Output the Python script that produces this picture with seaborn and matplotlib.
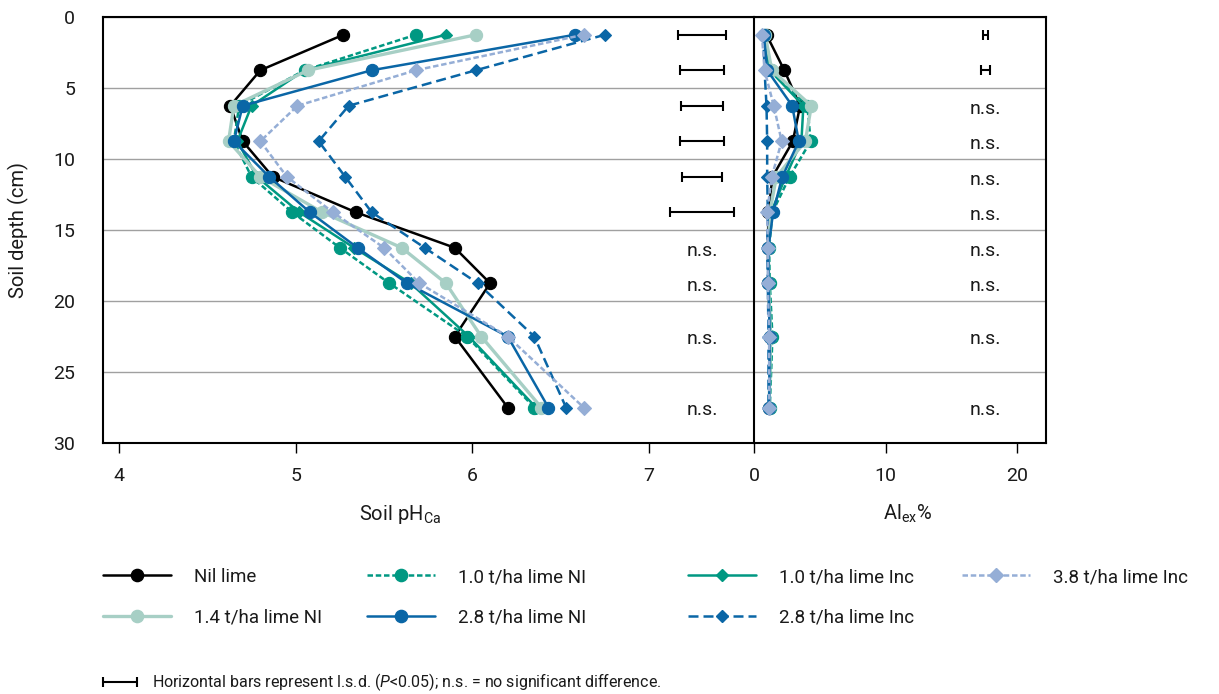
import matplotlib
matplotlib.use("Agg")
import matplotlib.pyplot as plt
import seaborn as sns
from matplotlib.lines import Line2D

# depth of each sampling layer (cm, mid-point)
depth = [1.25, 3.75, 6.25, 8.75, 11.25, 13.75, 16.25, 18.75, 22.5, 27.5]

# soil pH (CaCl2) per treatment
ph_nil = [5.27, 4.80, 4.63, 4.70, 4.87, 5.34, 5.90, 6.10, 5.90, 6.20]
ph_10ni = [5.68, 5.05, 4.68, 4.65, 4.75, 4.98, 5.25, 5.53, 5.97, 6.35]
ph_10inc = [5.85, 5.05, 4.75, 4.67, 4.78, 5.02, 5.33, 5.65, 5.98, 6.36]
ph_38inc = [6.63, 5.68, 5.01, 4.80, 4.95, 5.21, 5.50, 5.70, 6.20, 6.63]
ph_14ni = [6.02, 5.07, 4.65, 4.62, 4.80, 5.15, 5.60, 5.85, 6.05, 6.39]
ph_28ni = [6.58, 5.43, 4.70, 4.65, 4.85, 5.08, 5.35, 5.63, 6.20, 6.43]
ph_28inc = [6.75, 6.02, 5.30, 5.13, 5.28, 5.43, 5.73, 6.03, 6.35, 6.53]

# exchangeable Al (%) per treatment
al_nil = [0.95, 2.3, 3.5, 2.95, 1.4, 1.1, 1.05, 1.1, 1.2, 1.15]
al_10ni = [0.8, 1.3, 4.05, 4.3, 2.7, 1.4, 1.15, 1.2, 1.4, 1.2]
al_10inc = [0.75, 1.2, 3.75, 3.6, 2.4, 1.3, 1.1, 1.1, 1.3, 1.15]
al_38inc = [0.6, 0.8, 1.5, 2.1, 1.35, 1.0, 1.05, 1.05, 1.15, 1.15]
al_14ni = [0.85, 1.35, 4.35, 3.9, 1.7, 1.2, 1.1, 1.1, 1.25, 1.15]
al_28ni = [0.75, 1.0, 2.9, 3.4, 2.15, 1.45, 1.1, 1.1, 1.2, 1.15]
al_28inc = [0.7, 0.8, 0.95, 1.0, 1.0, 1.05, 1.0, 1.05, 1.1, 1.1]

# l.s.d. bars and n.s. labels
lsd_ph_depth = [1.25, 3.75, 6.25, 8.75, 11.25, 13.75]
lsd_ph = [0.27, 0.25, 0.24, 0.25, 0.23, 0.36]
ns_ph_depth = [16.25, 18.75, 22.5, 27.5]
lsd_al_depth = [1.25, 3.75]
lsd_al = [0.35, 0.7]
ns_al_depth = [6.25, 8.75, 11.25, 13.75, 16.25, 18.75, 22.5, 27.5]

TEAL = "#009882"
BLUE = "#0a66a6"
LBLUE = "#95aed6"
SAGE = "#a7cfc5"

# name, pH, Al, colour, dashes, marker, markersize, linewidth
series = [
    ("Nil lime", ph_nil, al_nil, "black", "-", "o", 8.8, 1.8),
    ("1.0 t/ha lime NI", ph_10ni, al_10ni, TEAL, (0, (2.2, 1.1)), "o", 8.8, 1.8),
    ("1.0 t/ha lime Inc", ph_10inc, al_10inc, TEAL, "-", "D", 6, 1.8),
    ("1.4 t/ha lime NI", ph_14ni, al_14ni, SAGE, "-", "o", 8.8, 2.4),
    ("2.8 t/ha lime NI", ph_28ni, al_28ni, BLUE, "-", "o", 8.8, 1.8),
    ("2.8 t/ha lime Inc", ph_28inc, al_28inc, BLUE, (0, (4, 2)), "D", 6, 1.8),
    ("3.8 t/ha lime Inc", ph_38inc, al_38inc, LBLUE, (0, (2.2, 1.1)), "D", 7.5, 1.8),
]

sns.set_style("white")
plt.rcParams["font.family"] = ["Roboto", "DejaVu Sans"]
plt.rcParams["mathtext.fontset"] = "custom"
plt.rcParams["mathtext.rm"] = "Roboto"
plt.rcParams["mathtext.it"] = "Roboto:italic"

TXT = "#1a1a1a"
W, H = 1219, 694
fig = plt.figure(figsize=(W / 100, H / 100), dpi=100)
axL = fig.add_axes([103 / W, 1 - 443 / H, 651 / W, 426 / H])
axR = fig.add_axes([754 / W, 1 - 443 / H, 292 / W, 426 / H])

for name, ph, al, col, ls, mk, ms, lw in series:
    for ax, xs in ((axL, ph), (axR, al)):
        sns.lineplot(x=xs, y=depth, ax=ax, color=col, linestyle=ls, lw=lw,
                     marker=mk, markersize=ms, markeredgecolor=col,
                     markeredgewidth=0.8, sort=False, orient="y", zorder=3)

# l.s.d. bars
axL.errorbar([7.3] * len(lsd_ph), lsd_ph_depth, xerr=[v / 2 for v in lsd_ph],
             fmt="none", ecolor="black", elinewidth=1.5, capsize=3.5, capthick=1.5)
axR.errorbar([17.6] * len(lsd_al), lsd_al_depth, xerr=[v / 2 for v in lsd_al],
             fmt="none", ecolor="black", elinewidth=1.5, capsize=3.5, capthick=1.5)
for d in ns_ph_depth:
    axL.text(7.3, d + 0.2, "n.s.", ha="center", va="center", fontsize=14, color=TXT)
for d in ns_al_depth:
    axR.text(17.6, d + 0.2, "n.s.", ha="center", va="center", fontsize=14, color=TXT)

for ax in (axL, axR):
    ax.set_ylim(30, 0)
    ax.set_yticks([0, 5, 10, 15, 20, 25, 30])
    ax.grid(axis="y", color="#a0a0a0", lw=1)
    ax.set_axisbelow(True)
    ax.set_xlabel("")
    ax.set_ylabel("")
    for s in ax.spines.values():
        s.set_color("black")
        s.set_linewidth(1.5)
    ax.tick_params(axis="x", direction="out", length=7, width=1, pad=10,
                   labelsize=14, colors="black", bottom=True)
    ax.tick_params(axis="x", labelcolor=TXT)

axL.set_xlim(4 - 16 / 176.7, 4 + 635 / 176.7)
axL.set_xticks([4, 5, 6, 7])
axL.spines["right"].set_visible(False)
axL.tick_params(axis="y", length=0, pad=20, labelsize=14, labelcolor=TXT)

axR.set_xlim(0, 292 / 13.17)
axR.set_xticks([0, 10, 20])
axR.tick_params(axis="y", left=False, labelleft=False)

fig.text(18 / W, 1 - 230 / H, "Soil depth (cm)", rotation=90, ha="center", va="center",
         fontsize=14.5, color=TXT)
fig.text(400 / W, 1 - 514 / H, r"Soil pH$_{\mathrm{Ca}}$", ha="center", va="center",
         fontsize=14.5, color=TXT)
fig.text(908 / W, 1 - 514 / H, r"Al$_{\mathrm{ex}}$%", ha="center", va="center",
         fontsize=14.5, color=TXT)

# legend, laid out in four columns like the original
handles = {name: Line2D([], [], color=col, linestyle=ls, lw=lw, marker=mk,
                        markersize=ms, markeredgecolor=col)
           for name, ph, al, col, ls, mk, ms, lw in series}
columns = [
    (103, ["Nil lime", "1.4 t/ha lime NI"]),
    (367, ["1.0 t/ha lime NI", "2.8 t/ha lime NI"]),
    (688, ["1.0 t/ha lime Inc", "2.8 t/ha lime Inc"]),
    (962, ["3.8 t/ha lime Inc"]),
]
for x0, names in columns:
    leg = fig.legend([handles[n] for n in names], names, loc="upper left",
                     bbox_to_anchor=(x0 / W, 1 - 568 / H), frameon=False, fontsize=13.5,
                     handlelength=3.6, handletextpad=1.25, labelspacing=1.2,
                     borderpad=0, borderaxespad=0, numpoints=1)
    for t in leg.get_texts():
        t.set_color(TXT)

# footnote
fig.add_artist(Line2D([103 / W, 137 / W], [1 - 682 / H] * 2, color="black", lw=1.5,
                      marker="|", markersize=7, markeredgewidth=1.5, markevery=[0, 1]))
fig.text(152 / W, 1 - 682 / H,
         r"Horizontal bars represent l.s.d. ($\it{P}$<0.05); n.s. = no significant difference.",
         ha="left", va="center", fontsize=11.5, color=TXT)

fig.savefig("out.png", dpi=100)
